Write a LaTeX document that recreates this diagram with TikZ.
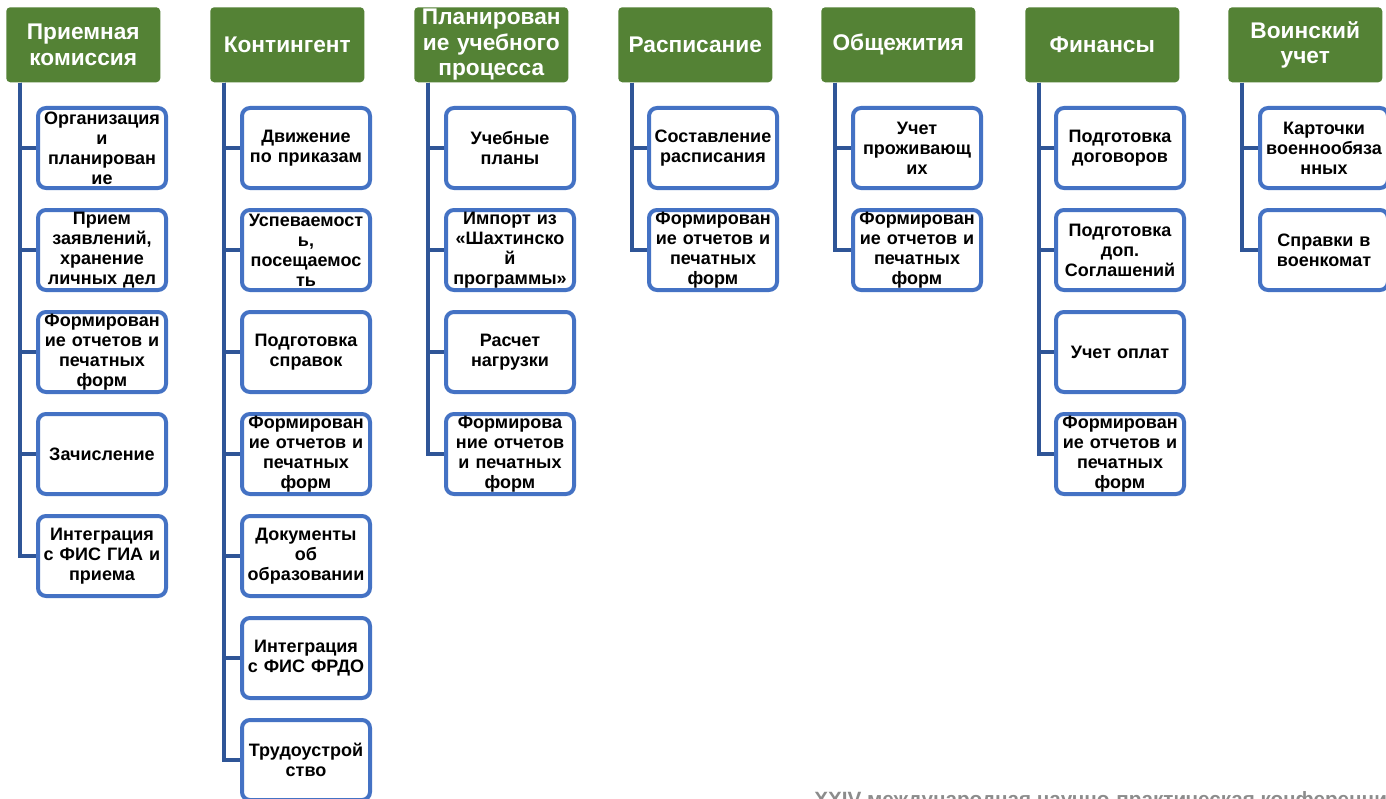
\documentclass[tikz,border=0pt]{standalone}
\usepackage{fontspec}
\setmainfont{Liberation Sans}
\definecolor{hdrgreen}{HTML}{548235}
\definecolor{boxblue}{HTML}{4472C4}
\definecolor{linkblue}{HTML}{2F5597}
\definecolor{footgray}{HTML}{8C8C8C}
\tikzset{
  hdr/.style={anchor=north west, fill=hdrgreen, rounded corners=3pt, text=white,
    font=\fontsize{17}{19}\selectfont\bfseries, minimum width=115.5pt, minimum height=56.25pt,
    text width=115pt, align=center, inner sep=0pt},
  child/.style={anchor=north west, draw=boxblue, line width=3pt, fill=white, rounded corners=6pt,
    font=\fontsize{13.5}{15}\selectfont\bfseries, minimum width=96pt, minimum height=60pt,
    text width=96pt, align=center, inner sep=0pt},
  conn/.style={draw=linkblue, line width=3pt}
}
\newcommand{\cbox}[4]{\node[child] (#1) at (#2,#3) {#4};}
\begin{document}
\begin{tikzpicture}[x=0.75pt,y=-0.75pt]
\clip (0,0) rectangle (1386,799);
\fill[white] (0,0) rectangle (1386,799);
% headers
\node[hdr] (h1) at (6,7) {Приемная\\комиссия};
\node[hdr] (h2) at (210,7) {Контингент};
\node[hdr] (h3) at (414,7) {Планирован\\ие учебного\\процесса};
\node[hdr] (h4) at (618,7) {Расписание};
\node[hdr] (h5) at (821,7) {Общежития};
\node[hdr] (h6) at (1025,7) {Финансы};
\node[hdr] (h7) at (1228,7) {Воинский\\учет};
% column 1
\cbox{c11}{36}{106}{Организация\\и\\планирован\\ие}
\cbox{c12}{36}{208}{Прием\\заявлений,\\хранение\\личных дел}
\cbox{c13}{36}{310}{Формирован\\ие отчетов и\\печатных\\форм}
\cbox{c14}{36}{412}{Зачисление}
\cbox{c15}{36}{514}{Интеграция\\с ФИС ГИА и\\приема}
% column 2
\cbox{c21}{240}{106}{Движение\\по приказам}
\cbox{c22}{240}{208}{Успеваемост\\ь,\\посещаемос\\ть}
\cbox{c23}{240}{310}{Подготовка\\справок}
\cbox{c24}{240}{412}{Формирован\\ие отчетов и\\печатных\\форм}
\cbox{c25}{240}{514}{Документы\\об\\образовании}
\cbox{c26}{240}{616}{Интеграция\\с ФИС ФРДО}
\cbox{c27}{240}{718}{Трудоустрой\\ство}
% column 3
\cbox{c31}{444}{106}{Учебные\\планы}
\cbox{c32}{444}{208}{Импорт из\\«Шахтинско\\й\\программы»}
\cbox{c33}{444}{310}{Расчет\\нагрузки}
\cbox{c34}{444}{412}{Формирова\\ние отчетов\\и печатных\\форм}
% column 4
\cbox{c41}{647}{106}{Составление\\расписания}
\cbox{c42}{647}{208}{Формирован\\ие отчетов и\\печатных\\форм}
% column 5
\cbox{c51}{851}{106}{Учет\\проживающ\\их}
\cbox{c52}{851}{208}{Формирован\\ие отчетов и\\печатных\\форм}
% column 6
\cbox{c61}{1054}{106}{Подготовка\\договоров}
\cbox{c62}{1054}{208}{Подготовка\\доп.\\Соглашений}
\cbox{c63}{1054}{310}{Учет оплат}
\cbox{c64}{1054}{412}{Формирован\\ие отчетов и\\печатных\\форм}
% column 7
\cbox{c71}{1258}{106}{Карточки\\военнообяза\\нных}
\cbox{c72}{1258}{208}{Справки в\\военкомат}
% connectors
\foreach \h/\cs in {h1/{c11,c12,c13,c14,c15},h2/{c21,c22,c23,c24,c25,c26,c27},h3/{c31,c32,c33,c34},h4/{c41,c42},h5/{c51,c52},h6/{c61,c62,c63,c64},h7/{c71,c72}}{
  \foreach \c in \cs {
    \draw[conn] (\h.south west) ++(14,0) |- (\c.west);
  }
}
% footer (cut off by the bottom edge, as in the reference)
\node[anchor=base west, text=footgray, font=\fontsize{15.5}{17}\selectfont\bfseries, inner sep=0pt] (foot) at (814,806) {XXIV международная научно-практическая конференция};
\end{tikzpicture}
\end{document}
